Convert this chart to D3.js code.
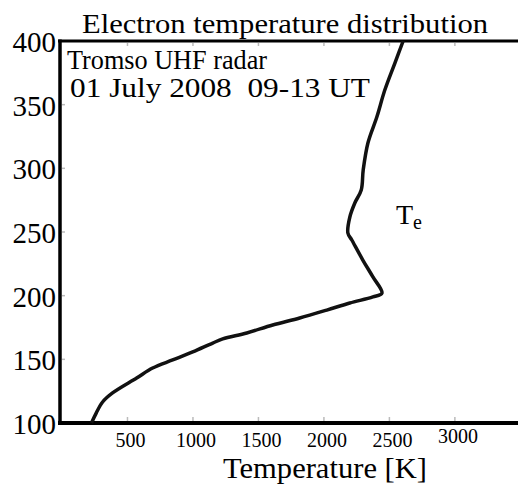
<!DOCTYPE html>
<html>
<head>
<meta charset="utf-8">
<script src="https://cdn.jsdelivr.net/npm/d3@7/dist/d3.min.js"></script>
<style>
  html, body { margin: 0; padding: 0; background: #fff; }
  text { white-space: pre; }
</style>
</head>
<body>
<div id="chart"></div>
<script>
// electron temperature profile
var altitude    = [100, 108, 116.5, 123.6, 135.3, 143.2, 149.5, 155.8, 162.8, 166, 170.7, 177, 182.5, 188.7, 194.2, 199, 202, 214.7, 228, 243.7, 249.2, 261.8, 272.8, 283, 298.7, 319.9, 340.3, 361.5, 382.7, 400];
var temperature = [225, 262, 310, 386, 570, 692, 845, 998, 1151, 1227, 1411, 1609, 1815, 2022, 2198, 2374, 2443, 2374, 2297, 2213, 2183, 2198, 2236, 2285, 2300, 2336, 2404, 2465, 2542, 2605];

var xTicks = [500, 1000, 1500, 2000, 2500, 3000];
var yTicks = [100, 150, 200, 250, 300, 350, 400];

var title = "Electron temperature distribution";
var xLabel = "Temperature [K]";
var note = ["Tromso UHF radar", "01 July 2008  09-13 UT"];

var font = "Liberation Serif";
var width = 518, height = 488;
var margin = { top: 41, right: 0, bottom: 65, left: 62 };

var svg = d3.select("#chart").append("svg")
    .attr("width", width)
    .attr("height", height)
    .style("display", "block");

var x = d3.scaleLinear().domain([0, 3482]).range([margin.left, width - margin.right]);
var y = d3.scaleLinear().domain([100, 400]).range([height - margin.bottom, margin.top]);

// faint inner ticks
var g = svg.append("g").attr("stroke", "#bbb").attr("stroke-width", 1.5);
g.selectAll(".tb").data(xTicks).enter().append("line")
    .attr("x1", function(d) { return x(d); }).attr("x2", function(d) { return x(d); })
    .attr("y1", y(100) - 2).attr("y2", y(100) - 6);
g.selectAll(".tt").data(xTicks).enter().append("line")
    .attr("x1", function(d) { return x(d); }).attr("x2", function(d) { return x(d); })
    .attr("y1", y(400) + 2).attr("y2", y(400) + 5);
g.selectAll(".tl").data(yTicks.slice(1)).enter().append("line")
    .attr("x1", 62).attr("x2", 65)
    .attr("y1", function(d) { return y(d); }).attr("y2", function(d) { return y(d); });

// frame: left axis, top line, bottom axis
svg.append("line").attr("x1", 60).attr("x2", 60).attr("y1", y(400) - 1.5).attr("y2", y(100) + 2)
    .attr("stroke", "#000").attr("stroke-width", 3.5);
svg.append("line").attr("x1", 58).attr("x2", width).attr("y1", y(400)).attr("y2", y(400))
    .attr("stroke", "#000").attr("stroke-width", 3);
svg.append("line").attr("x1", 58).attr("x2", width).attr("y1", y(100)).attr("y2", y(100))
    .attr("stroke", "#000").attr("stroke-width", 4);

// y tick labels
svg.selectAll(".ylab").data(yTicks).enter().append("text")
    .attr("font-family", font)
    .attr("x", 56)
    .attr("y", function(d) { return y(d) + 11; })
    .attr("text-anchor", "end")
    .attr("font-size", 29)
    .text(function(d) { return d; });

// x tick labels
svg.selectAll(".xlab").data(xTicks).enter().append("text")
    .attr("font-family", font)
    .attr("x", function(d) { return x(d) + 3; })
    .attr("y", function(d) { return y(100) + (d === 3000 ? 20 : 24); })
    .attr("text-anchor", "middle")
    .attr("font-size", 20)
    .text(function(d) { return d; });

// curve
var line = d3.line()
    .curve(d3.curveCatmullRom.alpha(0.5))
    .x(function(d) { return x(d[0]); })
    .y(function(d) { return y(d[1]); });

svg.append("path")
    .datum(d3.zip(temperature, altitude))
    .attr("fill", "none")
    .attr("stroke", "#111")
    .attr("stroke-width", 3.5)
    .attr("stroke-linejoin", "round")
    .attr("d", line);

// texts
function label(str, px, py, size, len) {
    return svg.append("text")
        .attr("font-family", font)
        .attr("x", px).attr("y", py)
        .attr("font-size", size)
        .attr("textLength", len).attr("lengthAdjust", "spacingAndGlyphs")
        .text(str);
}
label(title, 82, 33, 28, 406);
label(note[0], 67, 69, 28, 200);
label(note[1], 70, 97, 28, 300);
label(xLabel, 223, 478, 30, 204);

var te = svg.append("text").attr("font-family", font)
    .attr("x", 396).attr("y", 224).attr("font-size", 28);
te.append("tspan").text("T");
te.append("tspan").attr("font-size", 20).attr("dy", 5).text("e");
</script>
</body>
</html>
